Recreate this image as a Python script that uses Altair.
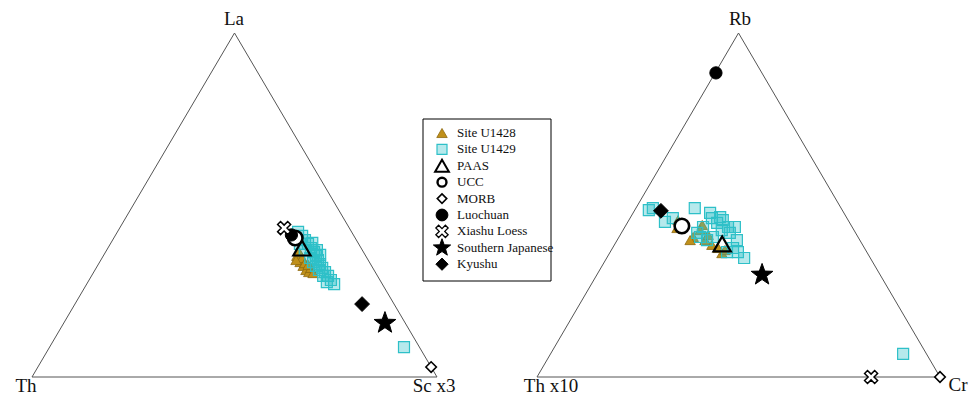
import altair as alt
import pandas as pd

# ---------------- data (ternary fractions) ----------------
groups = ["Site U1428", "Site U1429", "PAAS", "UCC", "MORB", "Luochuan",
          "Xiashu Loess", "Southern Japanese", "Kyushu"]
ref_groups = ["PAAS", "UCC", "MORB", "Luochuan", "Xiashu Loess", "Southern Japanese", "Kyushu"]

# Left diagram: La (top) - Th (left) - Sc x3 (right)
L_U1428_La = [0.352, 0.334, 0.323, 0.311, 0.305, 0.346, 0.331, 0.363, 0.317, 0.326, 0.340, 0.302]
L_U1428_Sc = [0.478, 0.495, 0.508, 0.521, 0.531, 0.494, 0.508, 0.478, 0.530, 0.519, 0.482, 0.543]
L_U1429_La = [0.422, 0.410, 0.398, 0.387, 0.375, 0.363, 0.352, 0.340, 0.328, 0.317, 0.305, 0.294,
              0.282, 0.270, 0.346, 0.334, 0.369, 0.311, 0.294, 0.276, 0.323, 0.387, 0.390, 0.369,
              0.355, 0.087]
L_U1429_Sc = [0.446, 0.462, 0.475, 0.488, 0.501, 0.515, 0.525, 0.536, 0.547, 0.558, 0.571, 0.584,
              0.597, 0.611, 0.514, 0.527, 0.489, 0.553, 0.572, 0.590, 0.540, 0.468, 0.497, 0.519,
              0.534, 0.875]
L_ref_La = [0.375, 0.404, 0.029, 0.413, 0.433, 0.157, 0.212]
L_ref_Sc = [0.479, 0.448, 0.971, 0.434, 0.406, 0.793, 0.709]

# Right diagram: Rb (top) - Th x10 (left) - Cr (right)
R_U1428_Rb = [0.433, 0.442, 0.407, 0.398, 0.384, 0.375, 0.360, 0.427, 0.413, 0.398, 0.369, 0.456]
R_U1428_Cr = [0.131, 0.189, 0.184, 0.218, 0.242, 0.262, 0.279, 0.191, 0.218, 0.181, 0.282, 0.122]
R_U1429_Rb = [0.485, 0.491, 0.451, 0.462, 0.491, 0.477, 0.465, 0.456, 0.436, 0.436, 0.419, 0.427,
              0.448, 0.462, 0.398, 0.407, 0.419, 0.375, 0.363, 0.346, 0.398, 0.363, 0.436, 0.407,
              0.067]
R_U1429_Cr = [0.035, 0.042, 0.092, 0.106, 0.146, 0.191, 0.222, 0.233, 0.256, 0.273, 0.269, 0.245,
              0.223, 0.203, 0.223, 0.201, 0.188, 0.299, 0.317, 0.341, 0.297, 0.290, 0.194, 0.233,
              0.875]
R_ref_Rb = [0.387, 0.439, 0.000, 0.884, 0.000, 0.297, 0.483]
R_ref_Cr = [0.266, 0.140, 1.000, 0.002, 0.829, 0.410, 0.066]

# ---------------- layout / style ----------------
PANELS = {
    "left": dict(x0=32, side=405, h=344, base=377),
    "right": dict(x0=537, side=403, h=344, base=377),
}
LEG_BOX = dict(x=423, x2=551, y=119, y2=281)
LEG_SYM_X, LEG_TXT_X, LEG_Y0, LEG_DY = 442, 457, 133, 16.4

XSHAPE = "M-1,-0.55L-0.55,-1L0,-0.45L0.55,-1L1,-0.55L0.45,0L1,0.55L0.55,1L0,0.45L-0.55,1L-1,0.55L-0.45,0Z"
STAR = ("M0,-1L0.24,-0.33L0.951,-0.309L0.39,0.127L0.588,0.809L0,0.41L-0.588,0.809"
        "L-0.39,0.127L-0.951,-0.309L-0.24,-0.33Z")
shapes = ["triangle-up", "square", "triangle-up", "circle", "diamond", "circle",
          XSHAPE, STAR, "diamond"]
fills = ["#C0901A", "rgba(46,192,200,0.35)", "rgba(255,255,255,0)", "white", "white", "black",
         "white", "black", "black"]
strokes = ["#8E6A10", "#2EC0C8", "black", "black", "black", "black", "black", "black", "black"]
swidths = [0.8, 1.2, 2.2, 2.6, 1.6, 1, 1.5, 1, 1]
sizes = [110, 121, 300, 210, 110, 150, 170, 520, 220]
leg_sizes = [110, 100, 190, 80, 90, 140, 150, 330, 150]
leg_swidths = [0.8, 1.2, 2.0, 2.4, 1.6, 1, 1.3, 1, 1]


def tern(panel, top, right):
    p = PANELS[panel]
    return p["x0"] + p["side"] * (right + top / 2.0), p["base"] - p["h"] * top


rows = []


def add(panel, group, tops, rights):
    gi = groups.index(group)
    for t, r in zip(tops, rights):
        x, y = tern(panel, t, r)
        rows.append(dict(panel=panel, group=group, x=x, y=y, sz=sizes[gi], sw=swidths[gi]))


add("left", "Site U1428", L_U1428_La, L_U1428_Sc)
add("right", "Site U1428", R_U1428_Rb, R_U1428_Cr)
add("left", "Site U1429", L_U1429_La, L_U1429_Sc)
add("right", "Site U1429", R_U1429_Rb, R_U1429_Cr)
for i, g in enumerate(ref_groups):
    add("left", g, [L_ref_La[i]], [L_ref_Sc[i]])
    add("right", g, [R_ref_Rb[i]], [R_ref_Cr[i]])
pts = pd.DataFrame(rows)

frame_rows = []
for panel in PANELS:
    for k, (t, r) in enumerate([(0, 0), (1, 0), (0, 1), (0, 0)]):
        x, y = tern(panel, t, r)
        frame_rows.append(dict(panel=panel, k=k, x=x, y=y))
frame = pd.DataFrame(frame_rows)

labels = pd.DataFrame([
    dict(text="La", x=234, y=25),
    dict(text="Th", x=26, y=392),
    dict(text="Sc x3", x=434, y=392),
    dict(text="Rb", x=740, y=25),
    dict(text="Th x10", x=551, y=392),
    dict(text="Cr", x=958, y=391),
])

leg_df = pd.DataFrame([
    dict(group=g, x=LEG_SYM_X, tx=LEG_TXT_X, y=LEG_Y0 + LEG_DY * i,
         sz=leg_sizes[i], sw=leg_swidths[i])
    for i, g in enumerate(groups)
])
box_df = pd.DataFrame([LEG_BOX])

xs = alt.Scale(domain=[8, 970], nice=False, zero=False)
ys = alt.Scale(domain=[8, 395], nice=False, zero=False, reverse=True)
X = alt.X("x:Q", scale=xs, axis=None)
Y = alt.Y("y:Q", scale=ys, axis=None)

SHAPE = alt.Shape("group:N", scale=alt.Scale(domain=groups, range=shapes), legend=None)
FILL = alt.Fill("group:N", scale=alt.Scale(domain=groups, range=fills), legend=None)
STROKE = alt.Stroke("group:N", scale=alt.Scale(domain=groups, range=strokes), legend=None)

frame_layer = alt.Chart(frame).mark_line(color="#555555", strokeWidth=1).encode(
    x=X, y=Y, detail="panel:N", order="k:Q")

points = alt.Chart(pts).mark_point(filled=True, opacity=1).encode(
    x=X, y=Y, shape=SHAPE, fill=FILL, stroke=STROKE,
    strokeWidth=alt.StrokeWidth("sw:Q", scale=None),
    size=alt.Size("sz:Q", scale=None),
)

text_layer = alt.Chart(labels).mark_text(
    font="Liberation Serif", fontSize=19, color="#111111", baseline="alphabetic"
).encode(x=X, y=Y, text="text:N")

box_layer = alt.Chart(box_df).mark_rect(fill="white", stroke="black", strokeWidth=1).encode(
    x=X, x2="x2:Q", y=Y, y2="y2:Q")

leg_sym = alt.Chart(leg_df).mark_point(filled=True, opacity=1).encode(
    x=X, y=Y, shape=SHAPE, fill=FILL, stroke=STROKE,
    strokeWidth=alt.StrokeWidth("sw:Q", scale=None),
    size=alt.Size("sz:Q", scale=None),
)

leg_txt = alt.Chart(leg_df).mark_text(
    font="Liberation Serif", fontSize=13, color="#111111", align="left", baseline="middle"
).encode(x=alt.X("tx:Q", scale=xs, axis=None), y=Y, text="group:N")

chart = alt.layer(frame_layer, points, text_layer, box_layer, leg_sym, leg_txt).properties(
    width=962, height=387, padding=0, autosize=alt.AutoSizeParams(type="none")
).configure_view(stroke=None)

chart.save("out.html", embed_options={"renderer": "svg", "actions": False})
